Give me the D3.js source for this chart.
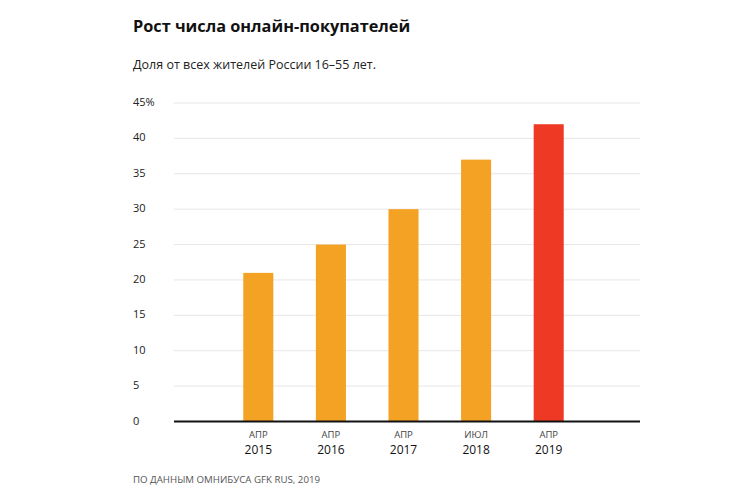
<!DOCTYPE html>
<html>
<head>
<meta charset="utf-8">
<script src="https://cdn.jsdelivr.net/npm/d3@7"></script>
<style>
  body { margin: 0; background: #fff; }
  text { font-family: "Open Sans", "Noto Sans", sans-serif; }
</style>
</head>
<body>
<svg id="chart" width="750" height="494"></svg>
<script>
// chart data
var months = ['АПР', 'АПР', 'АПР', 'ИЮЛ', 'АПР'];
var years = ['2015', '2016', '2017', '2018', '2019'];
var shares = [21, 25, 30, 37, 42];
var yTicks = [0, 5, 10, 15, 20, 25, 30, 35, 40, 45];

var svg = d3.select('#chart');

var x = d3.scaleBand()
    .domain(years)
    .range([222, 585])
    .paddingInner(0.586)
    .paddingOuter(0.293);

var y = d3.scaleLinear()
    .domain([0, 45])
    .range([421.5, 103]);

// titles
svg.append('text')
    .attr('x', 133).attr('y', 32)
    .style('font-size', '16.3px').style('font-weight', 'bold').style('fill', '#111')
    .text('Рост числа онлайн-покупателей');

svg.append('text')
    .attr('x', 133).attr('y', 69)
    .style('font-size', '12.5px').style('fill', '#222')
    .text('Доля от всех жителей России 16–55 лет.');

// gridlines
svg.append('g').selectAll('line')
    .data(yTicks.slice(1))
    .enter().append('line')
    .attr('x1', 174).attr('x2', 640)
    .attr('y1', function(d) { return y(d); })
    .attr('y2', function(d) { return y(d); })
    .style('stroke', '#e6e6e6').style('stroke-width', 1);

// y tick labels
svg.append('g').selectAll('text')
    .data(yTicks)
    .enter().append('text')
    .attr('x', 133)
    .attr('y', function(d) { return y(d) + 3; })
    .style('font-size', '11px').style('fill', '#222')
    .text(function(d) { return d === 45 ? d + '%' : d; });

// bars
svg.append('g').selectAll('rect')
    .data(shares)
    .enter().append('rect')
    .attr('x', function(d, i) { return x(years[i]); })
    .attr('width', x.bandwidth())
    .attr('y', function(d) { return y(d); })
    .attr('height', function(d) { return y(0) - y(d); })
    .style('fill', function(d, i) { return i === shares.length - 1 ? '#ee3a24' : '#f4a224'; });

// baseline
svg.append('line')
    .attr('x1', 174).attr('x2', 640)
    .attr('y1', y(0)).attr('y2', y(0))
    .style('stroke', '#111').style('stroke-width', 2);

// x labels
var labels = svg.append('g').selectAll('g')
    .data(years)
    .enter().append('g')
    .attr('transform', function(d) { return 'translate(' + (x(d) + x.bandwidth() / 2) + ',0)'; });

labels.append('text')
    .attr('y', 438)
    .style('text-anchor', 'middle').style('font-size', '9.5px').style('fill', '#444')
    .text(function(d, i) { return months[i]; });

labels.append('text')
    .attr('y', 454)
    .style('text-anchor', 'middle').style('font-size', '12px').style('fill', '#111')
    .text(function(d) { return d; });

// source
svg.append('text')
    .attr('x', 133).attr('y', 483)
    .style('font-size', '9.7px').style('fill', '#555')
    .text('ПО ДАННЫМ ОМНИБУСА GFK RUS, 2019');
</script>
</body>
</html>
